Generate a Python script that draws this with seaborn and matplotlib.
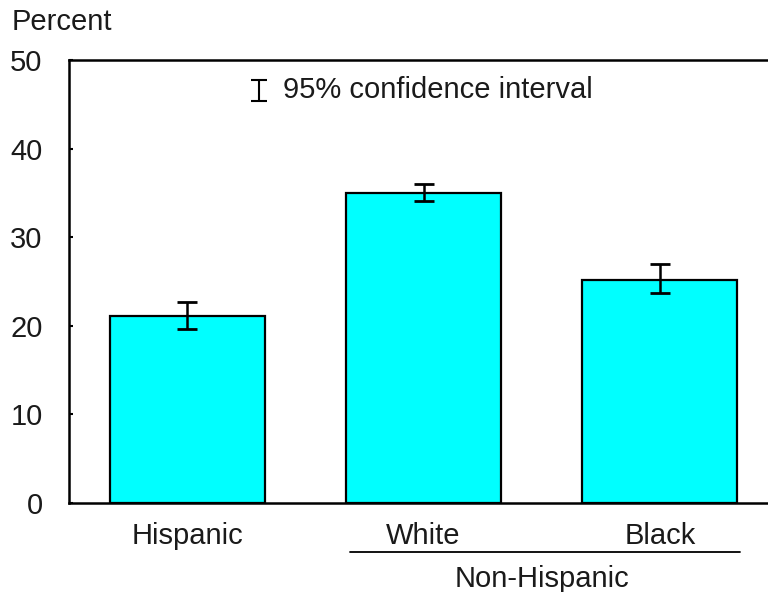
import matplotlib
matplotlib.use("Agg")
import matplotlib.pyplot as plt
import matplotlib.transforms as mtransforms
import seaborn as sns
import pandas as pd
import numpy as np

categories = ["Hispanic", "White", "Black"]
values = [21.1, 35.0, 25.2]
ci_low = [19.6, 34.1, 23.7]
ci_high = [22.7, 36.0, 27.0]
group_label = "Non-Hispanic"
y_ticks = [0, 10, 20, 30, 40, 50]

sns.set_theme(style="white")
plt.rcParams["font.family"] = ["Liberation Sans", "DejaVu Sans"]

FS = 21
TC = "#1a1a1a"

df = pd.DataFrame({"group": categories, "pct": values})

fig = plt.figure(figsize=(7.68, 5.92), dpi=100)
ax = fig.add_axes([69 / 768, 89 / 592, 709 / 768, 443 / 592])

sns.barplot(data=df, x="group", y="pct", color="#00FFFF", saturation=1,
            edgecolor="black", linewidth=1.6, width=0.655, errorbar=None, ax=ax)

x = np.arange(len(categories))
vals = np.array(values)
yerr = np.vstack([vals - np.array(ci_low), np.array(ci_high) - vals])
ax.errorbar(x, vals, yerr=yerr, fmt="none", ecolor="black", elinewidth=1.8,
            capsize=7, capthick=2)

ax.set_xlim(-0.5, 2.5)
ax.set_ylim(0, 50)
ax.set_yticks(y_ticks)
ax.set_xlabel("")
ax.set_ylabel("")
for s in ax.spines.values():
    s.set_color("black")
    s.set_linewidth(1.8)
ax.tick_params(axis="y", direction="in", length=3, width=1.5, color="black",
               pad=19, labelsize=FS, labelcolor=TC, left=True)
ax.tick_params(axis="x", length=0, pad=14, labelsize=FS, labelcolor=TC)

fig.text(12 / 768, 1 - 22 / 592, "Percent", fontsize=FS, color=TC,
         ha="left", va="center")

# legend glyph
ax.errorbar([0.268], [0.931], yerr=[[0.024], [0.024]], fmt="none", ecolor="black",
            elinewidth=1.5, capsize=6, capthick=1.5, transform=ax.transAxes,
            clip_on=False)
ax.text(0.302, 0.932, "95% confidence interval", transform=ax.transAxes,
        fontsize=FS, color=TC, ha="left", va="center")

# group bracket
trans = mtransforms.blended_transform_factory(ax.transData, ax.transAxes)
ax.plot([0.69, 2.34], [-0.111, -0.111], color="black", lw=1.3,
        transform=trans, clip_on=False)
ax.text(1.5, -0.172, group_label, transform=trans, fontsize=FS,
        color=TC, ha="center", va="center")

fig.savefig("out.png", dpi=100)
